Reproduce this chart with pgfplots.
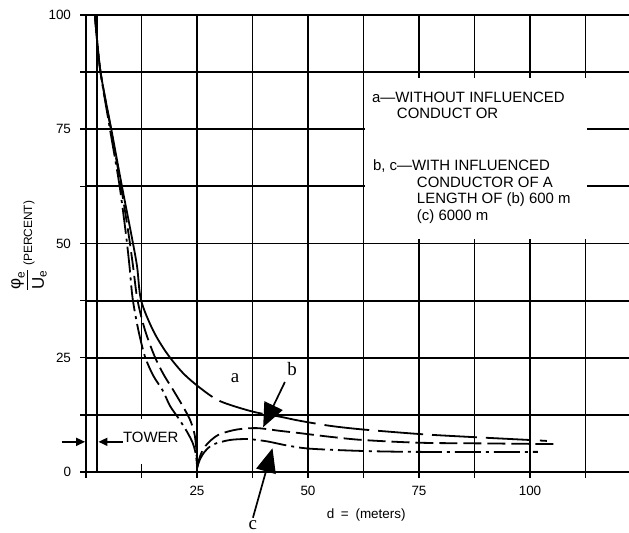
\documentclass[border=0pt]{standalone}
\usepackage{amsmath}
\usepackage{pgfplots}
\pgfplotsset{compat=1.18}
\usetikzlibrary{arrows.meta}
\usepackage{fontspec}
\setmainfont{Liberation Sans}
\newfontfamily\seriffont{Liberation Serif}

\begin{document}
\begin{tikzpicture}
\begin{axis}[
  at={(0,0)}, anchor=south west,
  scale only axis, width=543bp, height=457bp,
  xmin=0, xmax=122.3, ymin=0, ymax=100,
  clip=false,
  axis x line*=bottom, axis y line*=left,
  axis line style={line width=1.8bp, black},
  xtick={0,12.5,25,37.5,50,62.5,75,87.5,100,112.5},
  xticklabels={{},{},25,{},50,{},75,{},100,{}},
  ytick={0,12.5,25,37.5,50,62.5,75,87.5,100},
  yticklabels={0,{},25,{},50,{},75,{},100},
  /pgf/number format/assume math mode=true,
  tick align=outside, major tick length=6bp,
  tick style={black, line width=1.5bp},
  grid=major, major grid style={black, line width=1.8bp},
  ticklabel style={font=\fontsize{13.5}{15}\selectfont},
  xticklabel style={yshift=-5bp},
  yticklabel style={xshift=-5.5bp},
  ylabel={{\fontsize{17}{19}\selectfont$\dfrac{\text{φ}_{\text{e}}}{\text{U}_{\text{e}}}$}\ (PERCENT)},
  ylabel style={at={(axis description cs:-0.105,0.495)}, anchor=center, font=\fontsize{12}{14}\selectfont},
  xlabel={d\enspace=\enspace(meters)},
  xlabel style={at={(axis description cs:0.516,0)}, yshift=-43bp, anchor=center, font=\fontsize{13.5}{15}\selectfont},
]
% tower line
\addplot[black, line width=1.8bp] coordinates {(2.5,0) (2.5,100)};

% curve a: solid near the tower, long dashes further out
\addplot[black, line width=1.8bp, smooth, tension=0.5,
  dash pattern=on 412bp off 8bp on 45bp off 9bp on 45bp off 9bp on 45bp off 9bp on 45bp off 9bp on 45bp off 9bp on 45bp off 9bp on 45bp off 9bp on 45bp off 9bp] coordinates {
(2,100) (3.2,88) (5.7,75) (8,63) (10.2,52) (11.5,45) (12.4,37.6) (15.1,31) (18.2,26) (21.8,21.7) (25.7,18.4) (30.2,15.5)
(37.6,13.2) (43.7,12.1) (48.2,11.2) (55,10.1) (62.4,9.3) (75.2,8.3) (84,7.8) (100,7.0) (103.8,6.8)};

% curve b (dashed)
\addplot[black, line width=1.8bp, smooth, tension=0.5, dash pattern=on 18bp off 6bp] coordinates {
(2,100) (3.2,88) (5.6,75) (7.8,63) (9.6,52) (10.6,45) (11.6,37.6) (13.3,31) (15.5,25.2) (17.5,21.3) (19.6,18) (21.8,14.4) (23.4,11.5) (24.4,8.5) (24.85,5) (25,0.8)};
\addplot[black, line width=1.8bp, smooth, tension=0.5, dash pattern=on 18bp off 6bp] coordinates {
(25,0.8) (25.6,3.2) (26.6,5.3) (28.2,7) (30.2,8.3) (34,9.3) (38.5,9.6) (43.7,9.0) (48.2,8.5) (55,7.7) (62.4,7.0) (75.2,6.4) (90,6.25) (106.3,6.1)};

% curve c (dash-dot)
\addplot[black, line width=1.8bp, smooth, tension=0.5, dash pattern=on 26bp off 5bp on 3bp off 5bp] coordinates {
(2,100) (3.2,88) (5.4,75) (7.5,63) (9,52) (9.8,45) (10.5,38) (11.8,31) (13.3,25.2) (15.2,21) (17.3,17.8) (18.9,14.5) (20.8,11.8) (22.7,8.9) (24.1,6.2) (24.8,3.5) (25,0.8)};
\addplot[black, line width=1.8bp, smooth, tension=0.5, dash pattern=on 26bp off 5bp on 3bp off 5bp] coordinates {
(25,0.8) (25.6,2.6) (26.7,4.4) (28.6,6.0) (32.4,7.0) (36.5,7.2) (40.8,6.7) (45.3,5.8) (50.5,5.1) (62.4,4.6) (75.2,4.4) (101.8,4.4)};

% white panel for the explanation text
\fill[white] (axis cs:62.8,51.0) rectangle (axis cs:112.95,86.3);
\begin{scope}[every node/.style={font=\fontsize{15}{17}\selectfont, inner sep=0pt, anchor=base west}]
\node at (axis cs:64.4,80.96) {a—WITHOUT INFLUENCED};
\node at (axis cs:70.0,77.46) {CONDUCT OR};
\node at (axis cs:64.6,66.08) {b, c—WITH INFLUENCED};
\node at (axis cs:74.5,62.36) {CONDUCTOR OF A};
\node at (axis cs:74.5,58.86) {LENGTH OF (b) 600 m};
\node at (axis cs:74.5,55.14) {(c) 6000 m};
\end{scope}

% tower annotation
\fill[white] (axis cs:11.85,1.8) rectangle (axis cs:13.15,11.6);
\draw[black, line width=1.6bp, -{Triangle[length=9bp,width=8bp]}] (axis cs:-5.5,6.6) -- (axis cs:-0.2,6.6);
\draw[black, line width=1.6bp, -{Triangle[length=9bp,width=8bp]}] (axis cs:8.3,6.6) -- (axis cs:2.8,6.6);
\node[font=\fontsize{15}{17}\selectfont, inner sep=0pt, anchor=base west] at (axis cs:8.3,6.35) {TOWER};

% curve labels and arrows
\node[font=\seriffont\fontsize{19}{21}\selectfont] at (axis cs:33.6,20.6) {a};
\node[font=\seriffont\fontsize{19}{21}\selectfont] at (axis cs:46.4,22.6) {b};
\node[font=\seriffont\fontsize{19}{21}\selectfont] at (axis cs:37.6,-11.7) {c};
\draw[black, line width=1.7bp, -{Triangle[length=24bp,width=20bp]}] (axis cs:44.8,19.7) -- (axis cs:39.9,9.8);
\draw[black, line width=1.7bp, -{Triangle[length=24bp,width=20bp]}] (axis cs:37.6,-10.0) -- (axis cs:42.0,5.2);
\end{axis}
\pgfresetboundingbox
\path[use as bounding box] (-86bp,-61bp) rectangle (543bp,472bp);
\end{tikzpicture}
\end{document}
